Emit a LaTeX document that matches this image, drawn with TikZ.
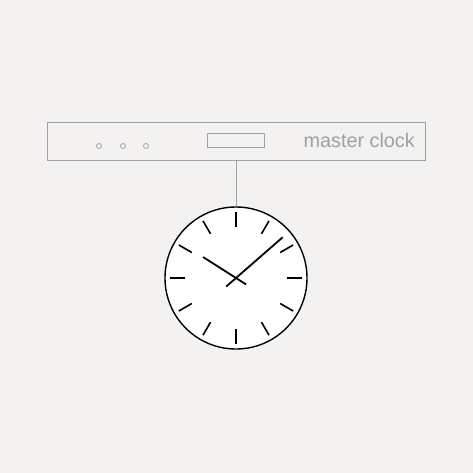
\documentclass[tikz,border=0pt]{standalone}
\usepackage{fontspec}
\setmainfont{Liberation Sans}
\usetikzlibrary{positioning}
\definecolor{paper}{HTML}{F3F2F0}
\definecolor{frame}{HTML}{A0A0A0}
\tikzset{
  unit/.style={draw=frame, line width=1pt, inner sep=0pt},
  led/.style={draw=frame, circle, minimum size=5pt, inner sep=0pt, line width=0.8pt},
  tick/.style={line width=1.6pt},
  hand/.style={line width=1.8pt}
}
\begin{document}
\begin{tikzpicture}[x=1pt,y=-1pt]
	 \fill[paper] (0,0) rectangle (473,473);

	 \node (master) [unit, minimum width=378pt, minimum height=37pt] at (236,141.5) {};
	 \node (display) [unit, minimum width=57pt, minimum height=14pt] at (235.5,141) {};
	 \node (led1) [led] at (99,146) {};
	 \node (led2) [led] at (123,146) {};
	 \node (led3) [led] at (146,146) {};
	 \node (label) [text=frame, font=\fontsize{19.8}{22}\selectfont, anchor=east, inner sep=0pt] at (415,140) {master clock};

	 \node (clock) [draw, fill=white, circle, minimum size=142pt, inner sep=0pt, line width=1.4pt] at (236,278) {};

	 \draw[frame, line width=1pt] (master.south) -- (clock.north);

	 \foreach \a in {0,30,...,330}
	   \draw[tick] ([shift={(\a:51)}]clock.center) -- ([shift={(\a:66)}]clock.center);
	 \foreach \a in {0,180}
	   \draw[line width=2.4pt] ([shift={(\a:51)}]clock.center) -- ([shift={(\a:66)}]clock.center);

	 \draw[hand] ([shift={(212.5:39)}]clock.center) -- ([shift={(32.5:12)}]clock.center);
	 \draw[hand] ([shift={(318.9:62)}]clock.center) -- ([shift={(138.9:13)}]clock.center);
	\end{tikzpicture}
\end{document}
